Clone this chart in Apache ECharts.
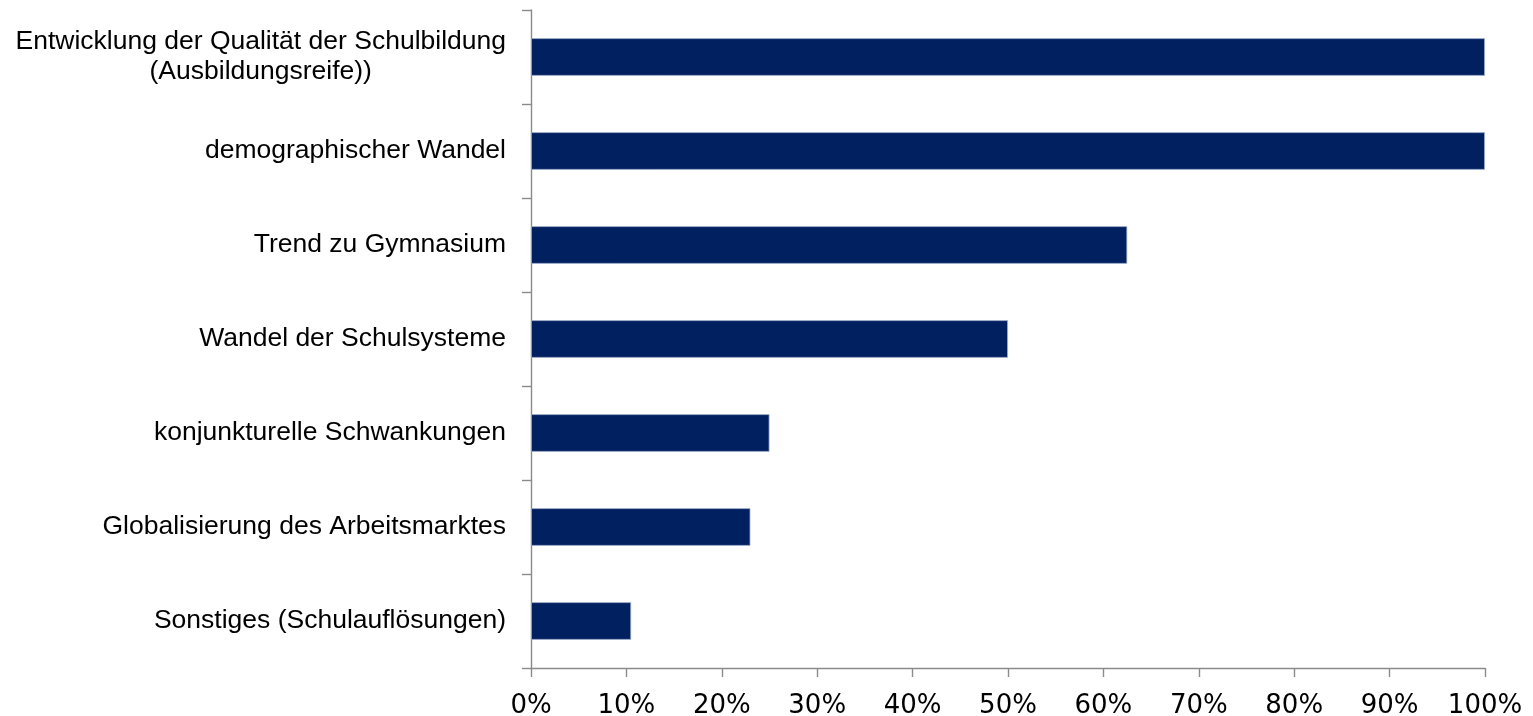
<!DOCTYPE html>
<html>
<head>
<meta charset="utf-8">
<script src="https://cdn.jsdelivr.net/npm/echarts@6/dist/echarts.min.js"></script>
<style>
  html, body { margin: 0; padding: 0; background: #ffffff; }
  #chart { width: 1533px; height: 716px; }
</style>
</head>
<body>
<div id="chart"></div>
<script>
// Categories, top to bottom
const categories = [
  'Entwicklung der Qualität der Schulbildung\n(Ausbildungsreife))',
  'demographischer Wandel',
  'Trend zu Gymnasium',
  'Wandel der Schulsysteme',
  'konjunkturelle Schwankungen',
  'Globalisierung des Arbeitsmarktes',
  'Sonstiges (Schulauflösungen)'
];
// Share of answers in percent
const shares = [100, 100, 62.5, 50, 25, 23, 10.5];
// Percent axis ticks
const tickMin = 0;
const tickMax = 100;
const tickStep = 10;

const axisGray = '#8a8a8a';

const chart = echarts.init(document.getElementById('chart'));
chart.setOption({
  animation: false,
  backgroundColor: '#ffffff',
  grid: {
    left: 531, right: 48, top: 10, bottom: 48,
    containLabel: false,
    outerBoundsMode: 'none'
  },
  xAxis: {
    type: 'value',
    min: tickMin,
    max: tickMax,
    interval: tickStep,
    axisLine: { show: true, lineStyle: { color: axisGray, width: 1.4 } },
    axisTick: { show: true, length: 9, lineStyle: { color: axisGray, width: 1.4 } },
    splitLine: { show: false },
    axisLabel: {
      formatter: '{value}%',
      fontFamily: 'DejaVu Sans',
      fontSize: 26,
      color: '#000000',
      margin: 25
    }
  },
  yAxis: {
    type: 'category',
    inverse: true,
    data: categories,
    axisLine: { show: true, lineStyle: { color: axisGray, width: 1.4 } },
    axisTick: { show: true, length: 9, lineStyle: { color: axisGray, width: 1.4 } },
    axisLabel: {
      margin: 25,
      align: 'right',
      // each line of a label is centred within the label block
      formatter: function (v) {
        return v.split('\n').map(function (s) { return '{c|' + s + '}'; }).join('\n');
      },
      rich: {
        c: {
          align: 'center',
          fontFamily: 'Liberation Sans, Arial',
          fontSize: 26.5,
          lineHeight: 30,
          color: '#000000'
        }
      }
    }
  },
  series: [{
    type: 'bar',
    data: shares,
    barWidth: '40%',
    itemStyle: {
      color: '#002060',
      borderColor: '#a8b6d0',
      borderWidth: 0.8
    }
  }]
});
</script>
</body>
</html>
